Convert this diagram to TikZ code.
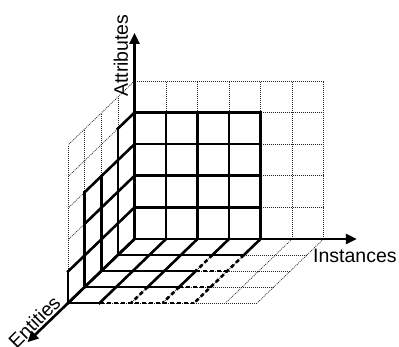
\documentclass[tikz,border=0pt]{standalone}
\usepackage{fontspec}
\setmainfont{Liberation Sans}
\usetikzlibrary{arrows.meta}
\tikzset{
  gridthin/.style={line width=0.7pt, dash pattern=on 1pt off 1pt, black!85},
  gridthick/.style={line width=2.6pt, line cap=rect, black},
  griddash/.style={line width=2.6pt, dash pattern=on 4pt off 3pt, black},
  axisline/.style={line width=2.6pt, black, -{Triangle[length=11pt,width=10pt]}},
  axislabel/.style={font=\fontsize{19.5}{20}\selectfont, inner sep=0pt}
}
\begin{document}
\begin{tikzpicture}[x={(31.5pt,0pt)}, y={(0pt,31.6pt)}, z={(-16.6pt,-16pt)}]
\useasboundingbox (-134.5pt,-108pt) rectangle (264.5pt,239pt);
% dotted full grids
\foreach \i in {0,...,6} \draw[gridthin] (\i,0,0) -- (\i,5,0);
\foreach \a in {0,...,5} \draw[gridthin] (0,\a,0) -- (6,\a,0);
\foreach \e in {0,...,4} \draw[gridthin] (0,0,\e) -- (0,5,\e);
\foreach \a in {0,...,5} \draw[gridthin] (0,\a,0) -- (0,\a,4);
\foreach \i in {0,...,6} \draw[gridthin] (\i,0,0) -- (\i,0,4);
\foreach \e in {0,...,4} \draw[gridthin] (0,0,\e) -- (6,0,\e);
% back plane solid
\foreach \i in {0,...,4} \draw[gridthick] (\i,0,0) -- (\i,4,0);
\foreach \a in {0,...,4} \draw[gridthick] (0,\a,0) -- (4,\a,0);
% left plane solid
\draw[gridthick] (0,0,1) -- (0,4,1);
\draw[gridthick] (0,0,2) -- (0,3,2);
\draw[gridthick] (0,0,3) -- (0,3,3);
\draw[gridthick] (0,0,4) -- (0,1,4);
\draw[gridthick] (0,4,0) -- (0,4,1);
\draw[gridthick] (0,3,0) -- (0,3,3);
\draw[gridthick] (0,2,0) -- (0,2,3);
\draw[gridthick] (0,1,0) -- (0,1,4);
\draw[gridthick] (0,0,0) -- (0,0,4);
% floor solid
\draw[gridthick] (0,0,1) -- (4,0,1);
\draw[gridthick] (0,0,2) -- (3,0,2);
\draw[gridthick] (0,0,3) -- (3,0,3);
\draw[gridthick] (0,0,4) -- (1,0,4);
\draw[gridthick] (1,0,0) -- (1,0,4);
\draw[gridthick] (2,0,0) -- (2,0,3);
\draw[gridthick] (3,0,0) -- (3,0,1);
\draw[gridthick] (3,0,2) -- (3,0,3);
\draw[gridthick] (4,0,0) -- (4,0,1);
% floor dashed
\draw[griddash] (3,0,2) -- (4,0,2);
\draw[griddash] (3,0,3) -- (4,0,3);
\draw[griddash] (1,0,4) -- (4,0,4);
\draw[griddash] (2,0,3) -- (2,0,4);
\draw[griddash] (3,0,1) -- (3,0,2);
\draw[griddash] (3,0,3) -- (3,0,4);
\draw[griddash] (4,0,1) -- (4,0,4);
% axes
\coordinate (O) at (0,0,0);
\coordinate (Atip) at (0,6.52,0);
\coordinate (Itip) at (7.06,0,0);
\coordinate (Etip) at (0,0,6.45);
\draw[axisline] (O) -- (Atip);
\draw[axisline] (O) -- (Itip);
\draw[axisline] (O) -- (Etip);
% labels
\node[axislabel, rotate=90, anchor=base west] (attr) at (-6.5pt,142pt) {Attributes};
\node[axislabel, anchor=base west] (inst) at (178.5pt,-24pt) {Instances};
\node[axislabel, rotate=45, anchor=base east] (ent) at (-72.5pt,-65pt) {Entities};
\end{tikzpicture}
\end{document}
